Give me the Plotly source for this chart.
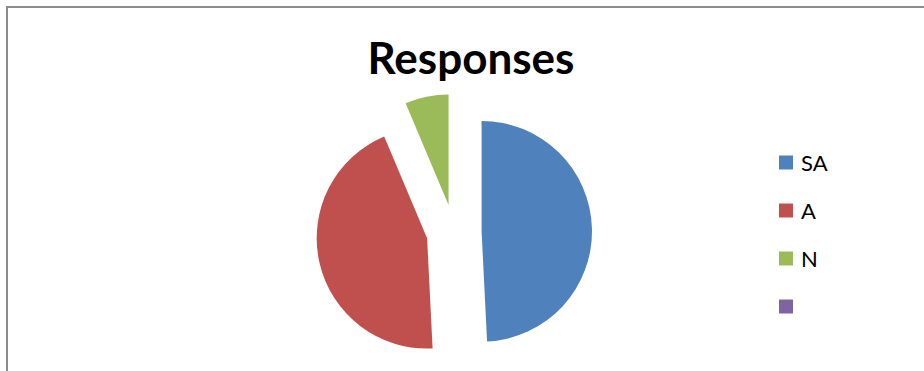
import plotly.graph_objects as go

# Survey responses
labels = ["SA", "A", "N", ""]
values = [31, 28, 4, 0]
colors = ["#4F81BD", "#C0504D", "#9BBB59", "#8064A2"]
pulls = [0.25, 0.25, 0.25, 0.25]

W, H = 924, 371

fig = go.Figure()
fig.add_trace(go.Pie(
    labels=labels,
    values=values,
    marker=dict(colors=colors, line=dict(width=0)),
    pull=pulls,
    sort=False,
    direction="clockwise",
    rotation=0,
    textinfo="none",
    hoverinfo="label+value+percent",
    showlegend=False,
    domain=dict(x=[316 / W, 592 / W], y=[0.0027, 0.7466]),
))

# Legend drawn as squares and labels, one row per category
leg_x, leg_y0, leg_step, sq = 779, 162.5, 48, 14
shapes = []
annotations = []
for i, (lab, col) in enumerate(zip(labels, colors)):
    cy = leg_y0 + i * leg_step
    shapes.append(dict(
        type="rect", xref="paper", yref="paper",
        x0=leg_x / W, x1=(leg_x + sq) / W,
        y0=1 - (cy + sq / 2) / H, y1=1 - (cy - sq / 2) / H,
        fillcolor=col, line=dict(width=0),
    ))
    if lab:
        annotations.append(dict(
            text=lab, xref="paper", yref="paper",
            x=(leg_x + sq + 6) / W, y=1 - cy / H,
            xanchor="left", yanchor="middle", showarrow=False,
            font=dict(family="Lato", size=22, color="#000000"),
        ))

# Chart area frame
shapes.append(dict(
    type="rect", xref="paper", yref="paper",
    x0=7 / W, x1=1.05, y0=-0.05, y1=1 - 7 / H,
    line=dict(color="#8C8C8C", width=2), fillcolor="rgba(0,0,0,0)",
    layer="below",
))

fig.update_layout(
    width=W, height=H, autosize=False,
    margin=dict(l=0, r=0, t=0, b=0),
    paper_bgcolor="#FFFFFF", plot_bgcolor="#FFFFFF",
    title=dict(
        text="Responses", x=471 / W, xanchor="center",
        y=1 - 59 / H, yanchor="middle", yref="paper",
        font=dict(family="Lato", size=44, color="#000000", weight="bold"),
    ),
    shapes=shapes,
    annotations=annotations,
)

fig.write_html("out.html")
